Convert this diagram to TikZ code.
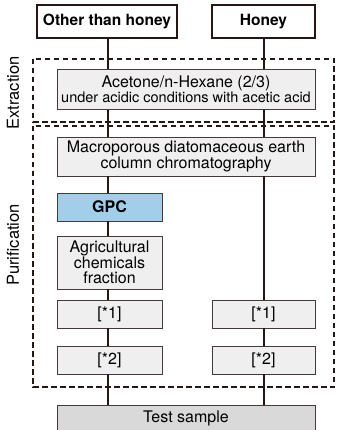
\documentclass[tikz,border=0pt]{standalone}
\usepackage{fontspec}
\setmainfont{TeX Gyre Heros}
\definecolor{linecol}{HTML}{231815}
\definecolor{boxgray}{HTML}{EFEFEF}
\definecolor{testgray}{HTML}{D9D9D9}
\definecolor{gpcblue}{HTML}{A3CEEA}
\begin{document}
\begin{tikzpicture}
  [x=1pt,y=-1pt,
   box/.style={draw=linecol!85,line width=0.8pt,fill=boxgray,inner sep=0pt,align=center,
     font=\fontsize{16}{15.5}\selectfont},
   topbox/.style={draw=linecol,line width=2pt,fill=white,inner sep=0pt,
     font=\bfseries\fontsize{15.5}{16}\selectfont},
   conn/.style={draw=linecol,line width=2.2pt},
   frame/.style={draw=linecol,line width=1.7pt,dash pattern=on 5.5pt off 3.5pt},
   sidelabel/.style={rotate=90,font=\fontsize{16.5}{17}\selectfont}]
  \useasboundingbox (0,0) rectangle (339,430);
  \clip (0,0) rectangle (339,430);

  % dashed frames
  \draw[frame] (33,59) rectangle (334,122);
  \draw[frame] (33,126) rectangle (334,387);
  \node[sidelabel] (extr) at (13,93)  {Extraction};
  \node[sidelabel] (puri) at (13,245) {Purification};

  \coordinate (lx) at (108,0);
  \coordinate (rx) at (264,0);

  \node[topbox,minimum width=140pt,minimum height=33pt] (other) at (107,21.5)   {Other than honey};
  \node[topbox,minimum width=103pt,minimum height=33pt] (honey) at (263.5,21.5) {Honey};

  \node[box,minimum width=258pt,minimum height=40pt] (acetone) at (186,89.5)
    {Acetone/n-Hexane (2/3)\\[-1pt]{\fontsize{14.5}{15}\selectfont under acidic conditions with acetic acid}};
  \node[box,minimum width=258pt,minimum height=39pt] (macro) at (186,156.5)
    {Macroporous diatomaceous earth\\column chromatography};
  \node[box,fill=gpcblue,font=\bfseries\fontsize{16}{16}\selectfont,
    minimum width=105pt,minimum height=28pt] (gpc) at (109.5,207) {GPC};
  \node[box,minimum width=105pt,minimum height=53pt] (agri) at (109.5,262.5)
    {Agricultural\\chemicals\\fraction};
  \node[box,minimum width=105pt,minimum height=28pt] (sL1) at (109.5,314) {[*1]};
  \node[box,minimum width=105pt,minimum height=28pt] (sL2) at (109.5,360) {[*2]};
  \node[box,minimum width=103pt,minimum height=28pt] (sR1) at (263.5,314) {[*1]};
  \node[box,minimum width=103pt,minimum height=28pt] (sR2) at (263.5,360) {[*2]};
  \node[box,fill=testgray,minimum width=258pt,minimum height=36pt,
    text depth=0pt,text height=12pt] (test) at (186,423) {\raisebox{7pt}{Test sample}};

  \foreach \from/\to in {other/acetone,acetone/macro,macro/gpc,gpc/agri,agri/sL1,sL1/sL2,sL2/test}
    \draw[conn] (\from.south -| lx) -- (\to.north -| lx);
  \foreach \from/\to in {honey/acetone,acetone/macro,macro/sR1,sR1/sR2,sR2/test}
    \draw[conn] (\from.south -| rx) -- (\to.north -| rx);

\end{tikzpicture}
\end{document}
